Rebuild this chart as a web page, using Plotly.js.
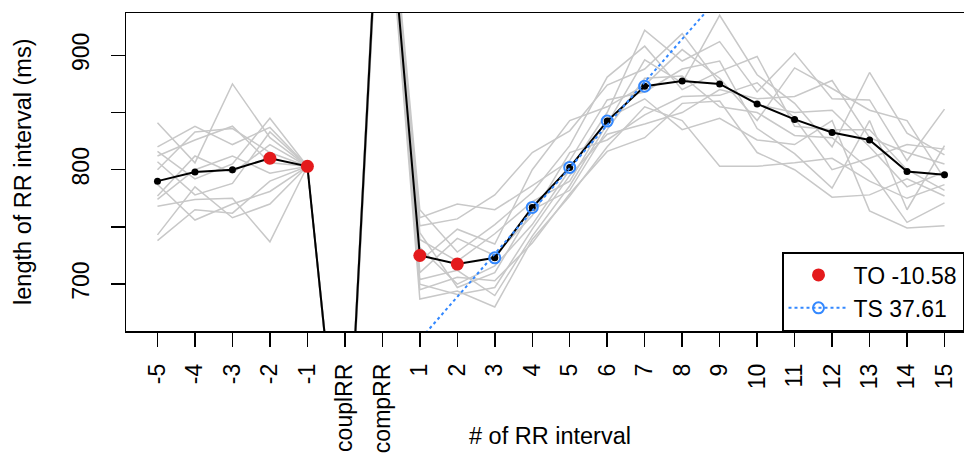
<!DOCTYPE html>
<html><head><meta charset="utf-8">
<script src="https://cdn.plot.ly/plotly-3.0.1.min.js"></script>
<style>html,body{margin:0;padding:0;background:#fff}#chart{width:964px;height:455px}</style>
</head><body><div id="chart"></div>
<script>
const beatLabels = ['-5','-4','-3','-2','-1','couplRR','compRR','1','2','3','4','5','6','7','8','9','10','11','12','13','14','15'];
const meanRR = [790, 798, 800, 810, 803, 484, 1105, 725, 717.5, 723, 767, 802, 842.5, 873, 877.5, 875, 857.5, 844, 832.5, 826, 798.5, 795.5];
const tachoA = [841, 806, 875, 828, 803, 482, 1102, 732, 700, 716, 752, 800, 850, 922, 895, 912, 868, 902, 862, 861, 808, 853];
const tachoB = [820, 838, 822, 837, 803, 488, 1110, 751, 757, 778, 815, 834, 874, 888, 919, 875, 857, 850, 852, 820, 785, 798];
const tachoC = [816, 792, 805, 845, 803, 478, 1094, 704, 712, 690, 742, 786, 840, 896, 876, 935, 883, 858, 820, 885, 832, 813];
const tachoD = [812, 826, 838, 806, 803, 490, 1116, 765, 728, 752, 780, 821, 881, 908, 870, 886, 899, 838, 835, 835, 800, 782];
const tachoE = [807, 778, 788, 833, 803, 485, 1106, 720, 748, 735, 800, 843, 855, 874, 905, 880, 843, 889, 871, 852, 843, 792];
const tachoF = [800, 833, 836, 815, 803, 480, 1098, 758, 770, 765, 786, 808, 861, 868, 888, 895, 836, 814, 784, 843, 765, 821];
const tachoG = [787, 756, 770, 781, 803, 487, 1112, 700, 691, 697, 748, 795, 831, 840, 850, 870, 862, 864, 878, 828, 815, 805];
const tachoH = [777, 812, 797, 822, 803, 476, 1092, 739, 720, 744, 772, 790, 845, 862, 835, 845, 826, 822, 843, 764, 749, 751];
const tachoI = [774, 800, 812, 797, 803, 489, 1108, 710, 740, 725, 760, 815, 826, 848, 864, 865, 876, 845, 800, 810, 822, 818];
const tachoJ = [768, 774, 775, 737, 803, 483, 1100, 695, 706, 703, 736, 779, 816, 828, 858, 860, 815, 800, 776, 778, 792, 777];
const tachoK = [743, 785, 758, 770, 803, 486, 1114, 745, 697, 710, 765, 782, 835, 880, 882, 855, 850, 830, 828, 800, 754, 771];
const tachoL = [738, 765, 762, 790, 803, 479, 1096, 687, 694, 680, 739, 777, 820, 855, 843, 803, 803, 806, 810, 790, 775, 787];
const toBeats = ['-2','-1','1','2'];
const tsBeats = ['3','4','5','6','7'];
const toLabel = 'TO -10.58';
const tsLabel = 'TS 37.61';
const yTicks = [700, 750, 800, 850, 900];
const yTickText = ['700', '', '800', '', '900'];

const idx = beatLabels.map((_, i) => i);
const pos = b => beatLabels.indexOf(b);
const tachos = [tachoA, tachoB, tachoC, tachoD, tachoE, tachoF, tachoG, tachoH, tachoI, tachoJ, tachoK, tachoL];

const traces = [];
tachos.forEach(t => traces.push({x: idx, y: t, mode: 'lines', line: {color: '#c8c8c8', width: 1.5}, showlegend: false, hoverinfo: 'skip'}));

// regression (TS) line from mean values at the TS beats
const tsX = tsBeats.map(pos), tsY = tsBeats.map(b => meanRR[pos(b)]);
const mx = tsX.reduce((a, b) => a + b, 0) / tsX.length, my = tsY.reduce((a, b) => a + b, 0) / tsY.length;
let sxy = 0, sxx = 0;
tsX.forEach((v, i) => { sxy += (v - mx) * (tsY[i] - my); sxx += (v - mx) * (v - mx); });
const slope = sxy / sxx, icpt = my - slope * mx;
const lineX = [-2, beatLabels.length + 2];

traces.push({x: idx, y: meanRR, mode: 'lines+markers', line: {color: '#000', width: 2}, marker: {color: '#000', size: 7}, showlegend: false});
traces.push({x: toBeats.map(pos), y: toBeats.map(b => meanRR[pos(b)]), mode: 'markers', marker: {color: '#e41a1c', size: 13}, name: toLabel});
traces.push({x: lineX, y: lineX.map(v => icpt + slope * v), mode: 'lines', line: {color: '#3388ff', width: 2, dash: 'dot'}, showlegend: false});
traces.push({x: tsX, y: tsY, mode: 'markers', marker: {symbol: 'circle-open', color: '#3388ff', size: 11, line: {width: 2}}, showlegend: false});
traces.push({x: [null], y: [null], mode: 'lines+markers', line: {color: '#3388ff', width: 2, dash: 'dot'}, marker: {symbol: 'circle-open', color: '#3388ff', size: 11, line: {width: 2}}, name: tsLabel});

const fam = 'Liberation Sans, Arial, sans-serif';
const tickFont = {family: fam, size: 23, color: '#000'};
const titleFont = {family: fam, size: 23.5, color: '#000'};
const legendFont = {family: fam, size: 23, color: '#000'};
const layout = {
  width: 964, height: 455,
  margin: {l: 126, r: 0, t: 13, b: 124},
  paper_bgcolor: '#fff', plot_bgcolor: '#fff',
  font: tickFont,
  showlegend: true,
  xaxis: {range: [-0.84, 21.52], tickvals: idx, ticktext: beatLabels, tickangle: -90,
    ticks: 'outside', ticklen: 14, tickwidth: 1.5, tickcolor: '#000',
    showline: true, linecolor: '#000', linewidth: 1.5, mirror: true,
    showgrid: false, zeroline: false, tickfont: tickFont, ticklabelstandoff: 8},
  yaxis: {range: [659, 937], tickvals: yTicks, ticktext: yTickText, tickangle: -90,
    ticks: 'outside', ticklen: 14, tickwidth: 1.5, tickcolor: '#000',
    showline: true, linecolor: '#000', linewidth: 1.5, mirror: false,
    showgrid: false, zeroline: false, tickfont: tickFont, ticklabelstandoff: 12},
  legend: {x: 0.783, y: 0, xanchor: 'left', yanchor: 'bottom', bordercolor: '#000', borderwidth: 1.5,
    bgcolor: '#fff', font: legendFont, itemwidth: 60},
  annotations: [
    {text: '# of RR interval', xref: 'paper', yref: 'paper', x: 0.506, y: -0.33, xanchor: 'center', yanchor: 'middle', showarrow: false, font: titleFont},
    {text: 'length of RR interval (ms)', xref: 'paper', yref: 'paper', x: -0.123, y: 0.5, textangle: -90, xanchor: 'center', yanchor: 'middle', showarrow: false, font: titleFont}
  ]
};
Plotly.newPlot('chart', traces, layout, {displayModeBar: false, staticPlot: true});
</script></body></html>
